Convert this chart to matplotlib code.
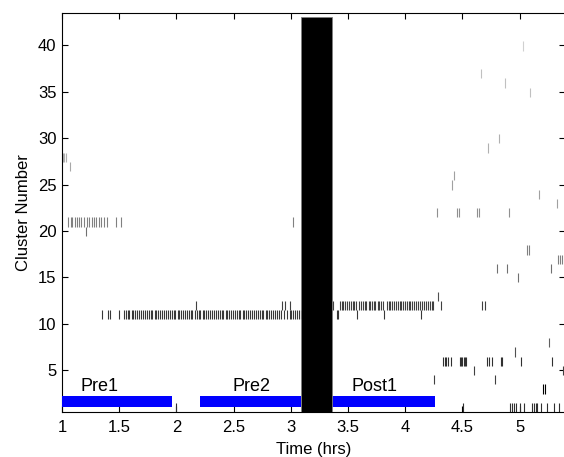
import matplotlib
matplotlib.use('Agg')
import matplotlib.pyplot as plt

plt.rcParams['font.family'] = ['Liberation Sans', 'DejaVu Sans']

# spike times (hrs) per cluster
c1 = [1.996, 4.508, 4.916, 4.93, 4.955, 4.97, 5.003, 5.038, 5.112, 5.125, 5.14, 5.155, 5.187, 5.237, 5.303, 5.347]
c3 = [5.207, 5.218]
c4 = [4.255, 4.788]
c5 = [4.604, 5.377]
c6 = [4.33, 4.345, 4.36, 4.375, 4.40, 4.48, 4.49, 4.50, 4.515, 4.525, 4.535, 4.712, 4.735, 4.759,
      4.835, 4.846, 5.01, 5.286]
c7 = [4.96]
c8 = [5.257]
c11 = [1.35, 1.40, 1.42, 1.50,
       1.54, 1.56, 1.575, 1.59, 1.61, 1.625, 1.64, 1.66, 1.675, 1.69, 1.71, 1.725, 1.74, 1.76, 1.775,
       1.79, 1.81, 1.825, 1.84, 1.86, 1.875, 1.89, 1.91, 1.925, 1.94, 1.96, 1.975, 1.99, 2.01, 2.025,
       2.04, 2.06, 2.075, 2.09, 2.11, 2.125, 2.14, 2.16, 2.18, 2.195, 2.21, 2.23, 2.245, 2.26, 2.28,
       2.295, 2.31, 2.33, 2.345, 2.36, 2.38, 2.395, 2.41, 2.43, 2.445, 2.46, 2.48, 2.495, 2.51, 2.53,
       2.545, 2.56, 2.58, 2.595, 2.61, 2.63, 2.645, 2.66, 2.68, 2.695, 2.71, 2.73, 2.745, 2.76, 2.78,
       2.795, 2.81, 2.83, 2.845, 2.86, 2.88, 2.895, 2.91, 2.94, 2.97, 2.99, 3.005, 3.02, 3.04, 3.055,
       3.07, 3.085,
       3.40, 3.415, 3.575, 3.817, 4.135]
c12 = [2.17, 2.925, 2.945, 2.995,
       3.35, 3.37, 3.43, 3.445, 3.46, 3.475, 3.49, 3.51, 3.525, 3.54, 3.555, 3.57, 3.60, 3.615, 3.63,
       3.645, 3.66, 3.68, 3.695, 3.71, 3.725, 3.74, 3.76, 3.775, 3.79, 3.805, 3.84, 3.855, 3.87, 3.885,
       3.90, 3.92, 3.935, 3.95, 3.965, 3.98, 4.00, 4.015, 4.03, 4.045, 4.06, 4.08, 4.095, 4.11, 4.125,
       4.15, 4.165, 4.18, 4.20, 4.215, 4.23, 4.245, 4.31, 4.675, 4.695]
c13 = [4.29]
c15 = [4.99]
c16 = [4.80, 4.893, 5.272]
c17 = [5.333, 5.35, 5.37]
c18 = [5.066, 5.078]
c20 = [1.21]
c21 = [1.055, 1.075, 1.09, 1.11, 1.13, 1.15, 1.17, 1.19, 1.22, 1.24, 1.26, 1.28, 1.30, 1.32, 1.345,
       1.37, 1.39, 1.475, 1.52, 3.02]
c22 = [4.275, 4.45, 4.468, 4.625, 4.642, 4.91]
c23 = [5.324]
c24 = [5.167]
c25 = [4.41]
c26 = [4.43]
c27 = [1.067]
c28 = [1.006, 1.02, 1.035]
c29 = [4.727]
c30 = [4.82]
c35 = [5.09]
c36 = [4.87]
c37 = [4.665]
c40 = [5.03]

spikes = {1: c1, 3: c3, 4: c4, 5: c5, 6: c6, 7: c7, 8: c8, 11: c11, 12: c12, 13: c13,
          15: c15, 16: c16, 17: c17, 18: c18, 20: c20, 21: c21, 22: c22, 23: c23, 24: c24,
          25: c25, 26: c26, 27: c27, 28: c28, 29: c29, 30: c30, 35: c35, 36: c36, 37: c37, 40: c40}

# recording epochs
epoch_names = ['Pre1', 'Pre2', 'Post1']
epoch_start = [1.0, 2.21, 3.34]
epoch_end = [1.96, 3.09, 4.26]
label_x = [1.33, 2.66, 3.73]
gap_start, gap_end = 3.09, 3.36

greys = {1: '#303030', 3: '#000000', 4: '#404040', 5: '#404040', 6: '#303030', 7: '#505050',
         8: '#606060', 11: '#383838', 12: '#404040', 13: '#505050', 15: '#707070', 16: '#707070',
         17: '#808080', 18: '#808080', 20: '#707070', 21: '#808080', 22: '#909090', 23: '#a0a0a0',
         24: '#a0a0a0', 25: '#a0a0a0', 26: '#a0a0a0', 27: '#a8a8a8', 28: '#b0b0b0', 29: '#b0b0b0',
         30: '#b0b0b0', 35: '#c0c0c0', 36: '#c0c0c0', 37: '#c0c0c0', 40: '#d0d0d0'}

fig = plt.figure(figsize=(5.64, 4.57), dpi=100)
ax = fig.add_axes([0.1099, 0.0991, 0.8926, 0.8725])

for c, t in spikes.items():
    ax.vlines(t, c - 0.55, c + 0.45, colors=greys[c], linewidth=0.8)

# epoch bars
for name, s, e, lx in zip(epoch_names, epoch_start, epoch_end, label_x):
    ax.barh(1.6, e - s, left=s, height=1.1, color='#0000ff', zorder=3)
    ax.text(lx, 2.3, name, ha='center', va='bottom', fontsize=13)

# gap in the recording
ax.bar((gap_start + gap_end) / 2, 42.6, width=gap_end - gap_start, bottom=0.5,
       color='black', edgecolor='#808080', linewidth=0.6, zorder=4)

ax.set_xlim(1, 5.4)
ax.set_ylim(0.5, 43.5)
ax.set_xticks([1, 1.5, 2, 2.5, 3, 3.5, 4, 4.5, 5])
ax.set_xticklabels(['1', '1.5', '2', '2.5', '3', '3.5', '4', '4.5', '5'])
ax.set_yticks([5, 10, 15, 20, 25, 30, 35, 40])
ax.tick_params(direction='in', top=True, right=True, length=4, width=0.8, labelsize=12)
ax.tick_params(axis='x', pad=6)
ax.tick_params(axis='y', pad=4)
for sp in ax.spines.values():
    sp.set_linewidth(0.8)
ax.set_xlabel('Time (hrs)', fontsize=12, labelpad=5)
ax.set_ylabel('Cluster Number', fontsize=12, labelpad=5)

fig.savefig('out.png', dpi=100)
